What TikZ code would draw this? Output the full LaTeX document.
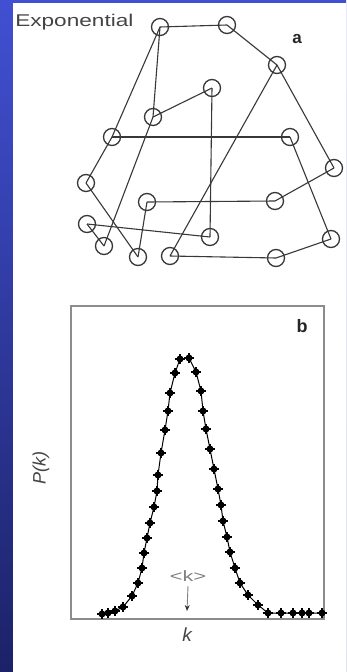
\documentclass[tikz,border=0pt]{standalone}
\usepackage{fontspec}
\setmainfont{Liberation Sans}
\usetikzlibrary{arrows.meta}
\definecolor{bgtop}{HTML}{4150D2}
\definecolor{bgbot}{HTML}{1C2268}
\definecolor{netgray}{HTML}{383838}
\definecolor{boxgray}{HTML}{8C8C8C}
\definecolor{txtgray}{HTML}{444444}
\begin{document}
\begin{tikzpicture}[x=1pt,y=-1pt,
  nd/.style={circle,draw=netgray,line width=1.3pt,minimum size=17pt,inner sep=0pt},
  ed/.style={draw=netgray,line width=1.1pt},
  lbl/.style={inner sep=0pt,text=txtgray},
  mk/.style={fill=black}]
\useasboundingbox (0,0) rectangle (346,672);
\shade[top color=bgtop,bottom color=bgbot] (0,0) rectangle (346,672);
\fill[white] (13,3) rectangle (346,672);

% panel a: network
\node[lbl,font=\fontsize{17}{17}\selectfont,xscale=1.33,transform shape,anchor=west] (title) at (15,22) {Exponential};
\node[inner sep=0pt,font=\fontsize{17}{17}\selectfont\bfseries,text=black!85] (la) at (297,39) {a};

\foreach \n/\x/\y in {1/160/27,2/227/25,3/277/65,4/212/88,5/153/117,6/112/137,7/290/137,8/86/183,9/334/168,10/147/202,11/275/201,12/87/224,13/210/237,14/104/246,15/138/257,16/170/256,17/276/258,18/331/239}
  \node[nd] (n\n) at (\x,\y) {};

\foreach \a/\b in {1/2,2/3,1/6,1/5,5/4,4/13,6/7,6/8,8/15,5/14,3/16,3/9,7/18,9/11,10/11,10/15,12/13,12/14,16/17,17/18}
  \draw[ed] (n\a.center) -- (n\b.center);

% panel b: distribution
\node[draw=boxgray,line width=2pt,minimum width=253pt,minimum height=313pt,inner sep=0pt,anchor=north west] (box) at (70,305) {};
\node[inner sep=0pt,font=\fontsize{18}{18}\selectfont\bfseries,text=black!85] (lb) at (302,326) {b};
\node[lbl,rotate=90,font=\fontsize{18}{18}\selectfont\itshape] (pk) at (41,468) {P(k)};
\node[lbl,font=\fontsize{19}{19}\selectfont\itshape] (kx) at (187,635) {k};
\node[lbl,font=\fontsize{15}{15}\selectfont,xscale=1.45,transform shape,text=gray] (mean) at (188,576) {<k>};
\coordinate (arrEnd) at (187,611);
\draw[draw=gray,line width=0.9pt,-{Stealth[length=6pt,width=5pt,color=black!80]}] (mean.south |- 0,586) -- (arrEnd);

\def\pts{(102,614) (108,613) (115,611) (123,607) (132,596) (138,583) (142,568) (144,553) (147,538) (150,523) (154,507) (157,491) (158,475) (161,453) (165,430) (168,411) (170,393) (175,373) (180,359) (189,358) (196,372) (201,391) (203,411) (206,429) (210,449) (214,469) (218,489) (221,505) (223,521) (227,537) (230,552) (235,568) (240,583) (248,595) (258,605) (268,613) (281,613) (293,613) (302,613) (309,613) (322,613)}
\draw[black,line width=1pt] plot coordinates {\pts};
\foreach \p in {(102,614),(108,613),(115,611),(123,607),(132,596),(138,583),(142,568),(144,553),(147,538),(150,523),(154,507),(157,491),(158,475),(161,453),(165,430),(168,411),(170,393),(175,373),(180,359),(189,358),(196,372),(201,391),(203,411),(206,429),(210,449),(214,469),(218,489),(221,505),(223,521),(227,537),(230,552),(235,568),(240,583),(248,595),(258,605),(268,613),(281,613),(293,613),(302,613),(309,613),(322,613)}{
  \fill[mk] \p circle (3.5);
  \draw[black,line width=1.8pt] \p ++(-4.6,0) -- ++(9.2,0);
  \draw[black,line width=1.8pt] \p ++(0,-4.6) -- ++(0,9.2);
}
\end{tikzpicture}
\end{document}
